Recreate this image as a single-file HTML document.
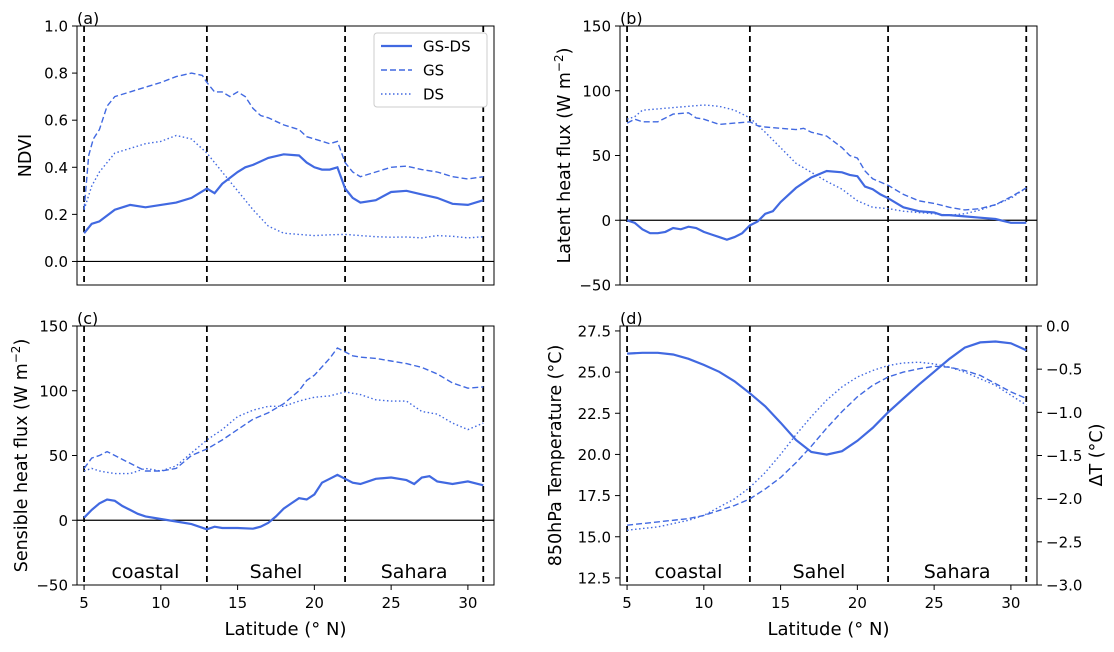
<!DOCTYPE html>
<html><head><meta charset="utf-8"><style>
body{margin:0;background:#fff;font-family:"Liberation Sans","DejaVu Sans",sans-serif}
svg text{font-family:"DejaVu Sans","Liberation Sans",sans-serif}
</style></head><body>
<svg id="fig" width="1114" height="647" viewBox="0 0 1114 647" xmlns="http://www.w3.org/2000/svg"></svg>
<script>
// ---- data ----
const latA=[5,5.5,6,7,8,9,10,11,12,13,13.5,14,15,15.5,16,17,18,19,19.5,20,20.5,21,21.5,22,22.5,23,24,25,26,27,28,29,30,31];
const ndviDiff=[0.12,0.16,0.17,0.22,0.24,0.23,0.24,0.25,0.27,0.31,0.29,0.33,0.38,0.40,0.41,0.44,0.455,0.45,0.42,0.40,0.39,0.39,0.40,0.31,0.27,0.25,0.26,0.295,0.30,0.285,0.27,0.245,0.24,0.26];
const latGS=[5,5.3,5.6,6,6.5,7,8,9,10,11,12,12.7,13,13.5,14,14.5,15,15.5,16,16.5,17,18,19,19.5,20,21,21.5,22,22.5,23,24,25,26,27,28,29,30,31];
const ndviGS=[0.22,0.45,0.52,0.56,0.66,0.70,0.72,0.74,0.76,0.785,0.80,0.79,0.76,0.72,0.72,0.70,0.72,0.70,0.65,0.62,0.61,0.58,0.56,0.53,0.52,0.50,0.51,0.42,0.38,0.36,0.38,0.40,0.405,0.39,0.38,0.36,0.35,0.36];
const latDS=[5,5.5,6,7,8,9,10,11,12,13,14,15,16,17,18,19,20,21,22,23,24,25,26,27,28,29,30,31];
const ndviDS=[0.22,0.32,0.38,0.46,0.48,0.50,0.51,0.535,0.52,0.46,0.38,0.30,0.22,0.15,0.12,0.115,0.11,0.113,0.115,0.11,0.105,0.103,0.104,0.10,0.11,0.107,0.10,0.105];

const latB=[5,5.5,6,6.5,7,7.5,8,8.5,9,9.5,10,10.5,11,11.5,12,12.5,13,13.5,14,14.5,15,16,17,18,19,19.5,20,20.5,21,21.5,22,23,24,25,25.5,26,27,28,29,30,31];
const lhDiff=[0,-2,-7,-10,-10,-9,-6,-7,-5,-6,-9,-11,-13,-15,-13,-10,-4,-1,5,7,14,25,33,38,37,35,34,26,24,20,17,10,7,6,4,4,3,2,1,-2,-2];
const latB2=[5,5.5,6,7,8,9,9.5,10,11,12,13,13.5,14,15,16,16.5,17,18,19,19.5,20,20.5,21,22,23,24,25,26,27,28,29,30,31];
const lhGS=[75,78,76,76,82,83,79,78,74,75,76,73,72,71,70,71,68,65,56,50,48,38,32,27,20,15,13,10,8,9,12,18,25];
const latB3=[5,5.5,6,7,8,9,10,11,12,13,14,15,16,17,18,19,20,21,22,23,24,25,26,27,28,29,30,31];
const lhDS=[78,80,85,86,87,88,89,88,85,79,68,56,44,37,30,24,15,10,9,7,6,5,4,5,8,12,17,25];

const latC=[5,5.5,6,6.5,7,7.5,8,8.5,9,10,11,12,13,13.5,14,15,16,16.5,17,17.5,18,18.5,19,19.5,20,20.5,21,21.5,22,22.5,23,23.5,24,25,26,26.5,27,27.5,28,29,30,31];
const shDiff=[2,8,13,16,15,11,8,5,3,1,-1,-3,-7,-5,-6,-6,-6.5,-5,-2,3,9,13,17,16,20,29,32,35,32,29,28,30,32,33,31,28,33,34,30,28,30,27];
const latC2=[5,5.5,6,6.5,7,8,9,10,11,12,13,14,15,16,17,18,19,19.5,20,21,21.5,22,22.5,23,24,25,26,27,28,29,30,31];
const shGS=[40,48,50,53,50,44,38,38,40,50,55,62,70,78,83,90,100,108,112,125,133,130,127,126,125,123,121,118,113,106,102,103];
const latC3=[5,5.5,6,7,8,9,10,11,12,13,14,15,16,17,18,19,20,21,22,23,24,25,26,27,28,29,30,31];
const shDS=[38,40,38,36,36,40,38,42,52,62,70,80,85,88,88,92,95,96,99,97,93,92,92,84,82,75,70,75];

const latD=[5,6,7,8,9,10,11,12,13,14,15,16,17,18,19,20,21,22,23,24,25,26,27,28,29,30,31];
const dT=[-0.32,-0.31,-0.31,-0.33,-0.38,-0.45,-0.53,-0.64,-0.78,-0.93,-1.12,-1.32,-1.46,-1.49,-1.45,-1.33,-1.18,-1.0,-0.84,-0.68,-0.53,-0.38,-0.25,-0.19,-0.18,-0.2,-0.28];
const latD2=[5,7,9,10,11,12,13,14,15,16,17,18,19,20,21,22,23,24,25,26,27,28,29,30,31];
const tGS=[15.7,15.9,16.1,16.3,16.6,16.9,17.3,17.9,18.6,19.5,20.5,21.6,22.6,23.5,24.2,24.7,25.0,25.2,25.35,25.3,25.1,24.8,24.3,23.8,23.4];
const latD3=[5,7,9,10,11,12,13,14,15,16,17,18,19,20,21,22,23,24,25,26,27,28,29,30,31];
const tDS=[15.4,15.6,16.0,16.3,16.8,17.3,18.0,18.9,20.0,21.2,22.3,23.3,24.1,24.7,25.1,25.4,25.55,25.6,25.5,25.3,25.0,24.6,24.2,23.6,23.0];

const xTicks=[5,10,15,20,25,30];
const boundaries=[5,13,22,31];
const regions=["coastal","Sahel","Sahara"];
const regionX=[9,17.5,26.5];

// ---- drawing ----
const NS="http://www.w3.org/2000/svg";
const svg=document.getElementById('fig');
const C='#4169e1';
function mk(tag,attrs,parent){const e=document.createElementNS(NS,tag);for(const k in attrs)e.setAttribute(k,attrs[k]);(parent||svg).appendChild(e);return e;}
function lin(d0,d1,r0,r1){return v=>r0+(v-d0)/(d1-d0)*(r1-r0);}
function fmt(v,dec){return v<0?'\u2212'+Math.abs(v).toFixed(dec):v.toFixed(dec);}

function panel(name,box,ylim,yticks,ydec,ylabel,letter,showX,ytx){
  const g=mk('g',{});
  
  
  const x=lin(4.54,31.7,box.x0,box.x1), y=lin(ylim[0],ylim[1],box.y1,box.y0);
  if(ylim[0]<0){const z=mk('line',{x1:box.x0,x2:box.x1,y1:y(0),y2:y(0),stroke:'#000','stroke-width':1.2},g);
    }
  boundaries.forEach(b=>{const l=mk('line',{x1:x(b),x2:x(b),y1:box.y0,y2:box.y1,stroke:'#000','stroke-width':1.8,'stroke-dasharray':'6,4'},g);
    });
  const fr=mk('rect',{x:box.x0,y:box.y0,width:box.x1-box.x0,height:box.y1-box.y0,fill:'none',stroke:'#000','stroke-width':1},g);
  
  yticks.forEach(t=>{mk('line',{x1:box.x0-5,x2:box.x0,y1:y(t),y2:y(t),stroke:'#000'},g);
    const tx=mk('text',{x:box.x0-9,y:y(t)+5.5,'text-anchor':'end','font-size':15},g);tx.textContent=fmt(t,ydec);
    });
  xTicks.forEach(t=>{mk('line',{x1:x(t),x2:x(t),y1:box.y1,y2:box.y1+(showX?5:0),stroke:'#000'},g);
    if(showX){const tx=mk('text',{x:x(t),y:box.y1+23,'text-anchor':'middle','font-size':15},g);tx.textContent=t;
    }});
  if(showX){const xl=mk('text',{x:(box.x0+box.x1)/2,y:box.y1+50,'text-anchor':'middle','font-size':18},g);xl.textContent='Latitude (° N)';
    
    regions.forEach((r,i)=>{const t=mk('text',{x:x(regionX[i]),y:box.y1-7,'text-anchor':'middle','font-size':19},g);t.textContent=r;
      });}
  const yl=mk('text',{transform:`translate(${ytx},${(box.y0+box.y1)/2}) rotate(-90)`,'text-anchor':'middle','font-size':17.5},g);
  yl.innerHTML=ylabel;
  const lt=mk('text',{x:box.x0,y:box.y0-2,'font-size':16},g);lt.textContent=letter;
  
  return {g,x,y};
}
function series(p,xs,ys,style,name,yfun){
  const yf=yfun||p.y;
  const d=xs.map((v,i)=>(i?'L':'M')+p.x(v).toFixed(1)+','+yf(ys[i]).toFixed(1)).join('');
  const a={d,fill:'none',stroke:C};
  if(style==='solid')a['stroke-width']=2.2;
  if(style==='dash'){a['stroke-width']=1.4;a['stroke-dasharray']='6,3';}
  if(style==='dot'){a['stroke-width']=1.4;a['stroke-dasharray']='1.5,2.5';}
  const e=mk('path',a,p.g);
  
  
}

const sup='(W m<tspan baseline-shift="super" font-size="12">−2</tspan>)';
const pa=panel('panel-a-ndvi',{x0:77,x1:494,y0:26,y1:285},[-0.1,1.0],[0,0.2,0.4,0.6,0.8,1.0],1,'NDVI','(a)',false,31);
series(pa,latA,ndviDiff,'solid','ndvi-gs-ds-line');series(pa,latGS,ndviGS,'dash','ndvi-gs-line');series(pa,latDS,ndviDS,'dot','ndvi-ds-line');
const pb=panel('panel-b-latent',{x0:620,x1:1037,y0:26,y1:285},[-50,150],[-50,0,50,100,150],0,'Latent heat flux '+sup,'(b)',false,570);
series(pb,latB,lhDiff,'solid','latent-gs-ds-line');series(pb,latB2,lhGS,'dash','latent-gs-line');series(pb,latB3,lhDS,'dot','latent-ds-line');
const pc=panel('panel-c-sensible',{x0:77,x1:494,y0:326,y1:585},[-50,150],[-50,0,50,100,150],0,'Sensible heat flux '+sup,'(c)',true,27);
series(pc,latC,shDiff,'solid','sensible-gs-ds-line');series(pc,latC2,shGS,'dash','sensible-gs-line');series(pc,latC3,shDS,'dot','sensible-ds-line');
const pd=panel('panel-d-temperature',{x0:620,x1:1037,y0:326,y1:585},[12.07,27.8],[12.5,15,17.5,20,22.5,25,27.5],1,'850hPa Temperature (°C)','(d)',true,561);
series(pd,latD2,tGS,'dash','temp-gs-line');series(pd,latD3,tDS,'dot','temp-ds-line');
const yR=lin(-3,0,585,326);
series(pd,latD,dT,'solid','delta-t-line',yR);
[-3,-2.5,-2,-1.5,-1,-0.5,0].forEach(t=>{mk('line',{x1:1037,x2:1042,y1:yR(t),y2:yR(t),stroke:'#000'},pd.g);
  const tx=mk('text',{x:1046,y:yR(t)+5.5,'font-size':15},pd.g);tx.textContent=fmt(t,1);
  });
const rl=mk('text',{transform:'translate(1102,455) rotate(-90)','text-anchor':'middle','font-size':17.5},pd.g);rl.textContent='ΔT (°C)';


// legend
const lg=mk('g',{});


mk('rect',{x:374,y:33,width:113,height:74,rx:3,fill:'#fff',stroke:'#ccc'},lg);
[['GS-DS','solid'],['GS','dash'],['DS','dot']].forEach((e,i)=>{
  const yy=46+i*24;const a={x1:381,x2:412,y1:yy,y2:yy,stroke:C};
  if(e[1]==='solid')a['stroke-width']=2.2;if(e[1]==='dash'){a['stroke-width']=1.4;a['stroke-dasharray']='6,3';}if(e[1]==='dot'){a['stroke-width']=1.4;a['stroke-dasharray']='1.5,2.5';}
  const ln=mk('line',a,lg);
  const t=mk('text',{x:423,y:yy+5.5,'font-size':15},lg);t.textContent=e[0];
  
});
</script>
</body></html>
